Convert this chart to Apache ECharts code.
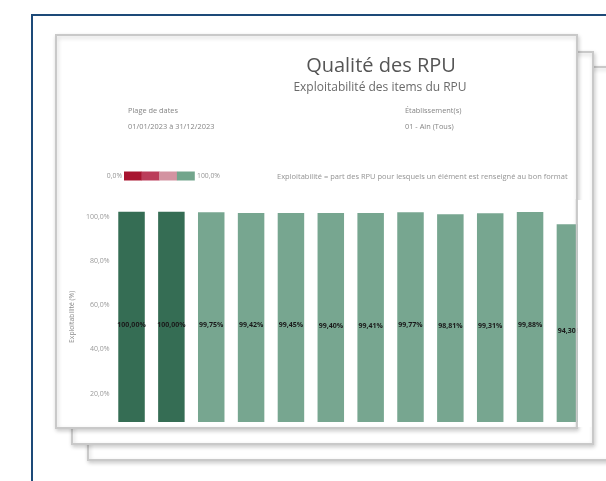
<!DOCTYPE html>
<html>
<head>
<meta charset="utf-8">
<title>Qualité des RPU</title>
<script src="https://cdn.jsdelivr.net/npm/echarts@6/dist/echarts.min.js"></script>
<style>
  html, body { margin: 0; padding: 0; background: #ffffff; }
  #chart { width: 606px; height: 481px; }
</style>
</head>
<body>
<div id="chart"></div>
<script>
// RPU items, left to right
const items = [
  'FINESS', 'Sexe', 'Date de naissance', 'Code postal', 'Commune',
  "Date d'entrée", "Mode d'entrée", 'Provenance', 'Mode de transport',
  'Motif de recours', 'Gravité', 'Diagnostic principal'
];
// Exploitability per item (%)
const exploitabilite = [100.00, 100.00, 99.75, 99.42, 99.45, 99.40, 99.41, 99.77, 98.81, 99.31, 99.88, 94.30];
// Value-axis tick labels (%)
const yTicks = [20, 40, 60, 80, 100];
// Colour scale legend: bounds and steps
const legendBounds = ['0,0%', '100,0%'];
const legendSteps = ['#a8142f', '#bb3d5a', '#d393a1', '#72a58c'];

const FONT = '"Open Sans", "Noto Sans", sans-serif';
const fmtPct = (v, d) => v.toFixed(d).replace('.', ',') + '%';

const chart = echarts.init(document.getElementById('chart'), null, { renderer: 'canvas' });

// Stacked sheets behind the chart
const SHEET_STROKE = '#c9c9c9';
const sheet = (x, y, w, h) => ({
  type: 'rect', z: 0,
  shape: { x: x, y: y, width: w, height: h },
  style: { fill: '#ffffff', stroke: SHEET_STROKE, lineWidth: 2,
           shadowBlur: 4, shadowOffsetX: 1, shadowOffsetY: 2, shadowColor: 'rgba(0,0,0,0.18)' }
});
const txt = (text, x, y, size, color, align, weight) => ({
  type: 'text', z: 1,
  style: { text: text, x: x, y: y, fill: color, align: align || 'left', verticalAlign: 'middle',
           font: (weight || 'normal') + ' ' + size + 'px ' + FONT }
});

const graphics = [
  // dark frame
  { type: 'polyline', z: 0, shape: { points: [[32, 481], [32, 15], [606, 15]] },
    style: { stroke: '#1d4a78', lineWidth: 2, fill: null } },
  sheet(88, 67, 540, 393),
  sheet(72, 52, 521, 392),
  sheet(56, 35, 521, 393),
  txt('Qualité des RPU', 381, 66, 20, '#555555', 'center'),
  txt('Exploitabilité des items du RPU', 380, 88, 12, '#6a6a6a', 'center'),
  txt('Plage de dates', 128, 111, 7.4, '#858585'),
  txt('01/01/2023 à 31/12/2023', 128, 127, 7.4, '#858585'),
  txt('Établissement(s)', 405, 111, 7.4, '#858585'),
  txt('01 - Ain (Tous)', 405, 127, 7.4, '#858585'),
  txt('Exploitabilité = part des RPU pour lesquels un élément est renseigné au bon format', 277, 177, 7.5, '#939393'),
  txt(legendBounds[0], 122, 176, 6.8, '#959595', 'right'),
  txt(legendBounds[1], 197, 176, 6.8, '#959595', 'left')
];
// colour legend steps
const legX0 = 124, legX1 = 194.5, stepW = (legX1 - legX0) / legendSteps.length;
legendSteps.forEach((c, i) => {
  graphics.push({ type: 'rect', z: 1,
    shape: { x: legX0 + i * stepW, y: 171.5, width: stepW + 0.3, height: 9 },
    style: { fill: c } });
});
// the front sheet's right edge crops the last bar and its label
graphics.push({ type: 'rect', z: 100, shape: { x: 577.8, y: 200, width: 13.6, height: 227 }, style: { fill: '#ffffff' } });
graphics.push({ type: 'line', z: 101, shape: { x1: 576.8, y1: 199, x2: 576.8, y2: 428 }, style: { stroke: SHEET_STROKE, lineWidth: 2 } });

const option = {
  animation: false,
  backgroundColor: '#ffffff',
  graphic: { elements: graphics },
  grid: { left: 111.6, right: 30.9, top: 211.7, bottom: 59, containLabel: false },
  xAxis: {
    type: 'value', min: 0.5, max: 12.13,
    show: false
  },
  yAxis: {
    type: 'value', min: 4.6, max: 100,
    name: 'Exploitabilité (%)', nameLocation: 'middle', nameRotate: 90, nameGap: 33,
    nameTextStyle: { fontSize: 6.8, color: '#8a8a8a', fontFamily: FONT },
    axisLine: { show: false },
    axisTick: { show: false },
    splitLine: { show: false },
    axisLabel: {
      customValues: yTicks, margin: 2, fontSize: 7, color: '#9a9a9a', fontFamily: FONT,
      verticalAlign: 'top', padding: [2, 0, 0, 0],
      formatter: v => fmtPct(v, 1)
    }
  },
  series: [{
    type: 'bar',
    name: 'Exploitabilité',
    clip: true,
    barWidth: 26.5,
    data: exploitabilite.map((v, i) => ({ name: items[i], value: [i + 1, v] })),
    itemStyle: {
      color: p => (p.value[1] >= 99.995 ? '#356d54' : '#77a690')
    },
    label: {
      show: true, position: 'inside', offset: [0, 8],
      fontSize: 7, fontWeight: 'bold', color: '#1a1a1a', fontFamily: FONT,
      formatter: p => fmtPct(p.value[1], 2)
    }
  }]
};

chart.setOption(option);
</script>
</body>
</html>
